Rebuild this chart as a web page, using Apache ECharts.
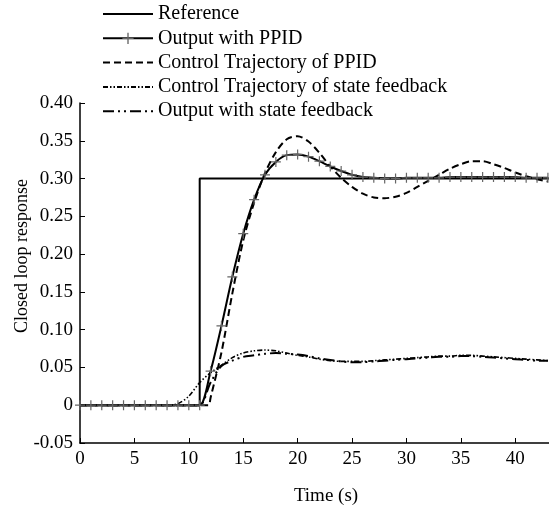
<!DOCTYPE html>
<html><head><meta charset="utf-8">
<script src="https://cdn.jsdelivr.net/npm/echarts@6/dist/echarts.min.js"></script>
<style>html,body{margin:0;padding:0;background:#fff}#c{width:549px;height:510px}</style>
</head><body><div id="c"></div>
<script>
// ---- data ----
const refT = [0, 11, 11, 43.2];
const refV = [0, 0, 0.3, 0.3];

const ppidT = [0,1,2,3,4,5,6,7,8,9,10,11,12,13,14,15,16,17,18,19,20,21,22,23,24,25,26,27,28,29,30,31,32,33,34,35,36,37,38,39,40,41,42,43];
const ppidV = [0,0,0,0,0,0,0,0,0,0,0,0,0.045,0.105,0.170,0.227,0.272,0.305,0.322,0.331,0.332,0.329,0.323,0.316,0.310,0.305,0.302,0.301,0.300,0.300,0.301,0.301,0.301,0.301,0.302,0.302,0.302,0.302,0.302,0.302,0.302,0.301,0.301,0.301];

const ctpT = [0,2,4,6,8,10,11,11.8,12,13,14,15,16,17,18,19,20,21,22,23,24,25,26,27,28,29,30,31,32,33,34,35,36,37,38,39,40,41,42,43];
const ctpV = [0,0,0,0,0,0,0,0,0.010,0.070,0.148,0.218,0.268,0.307,0.335,0.352,0.356,0.349,0.334,0.316,0.301,0.289,0.280,0.275,0.274,0.276,0.281,0.289,0.297,0.305,0.313,0.319,0.323,0.323,0.319,0.314,0.308,0.303,0.299,0.296];

const ctsT = [0,2,4,6,8,9,10,11,12,13,14,15,16,17,18,19,20,21,22,23,24,25,26,27,28,29,30,31,32,33,34,35,36,37,38,39,40,41,42,43];
const ctsV = [0,0,0,0,0,0.002,0.012,0.030,0.043,0.053,0.063,0.069,0.072,0.073,0.072,0.069,0.066,0.064,0.061,0.059,0.058,0.058,0.058,0.059,0.060,0.061,0.062,0.063,0.064,0.065,0.065,0.066,0.066,0.065,0.064,0.063,0.062,0.061,0.060,0.059];

const osfT = [0,2,4,6,8,10,11,12,13,14,15,16,17,18,19,20,21,22,23,24,25,26,27,28,29,30,31,32,33,34,35,36,37,38,39,40,41,42,43];
const osfV = [0,0,0,0,0,0,0,0.030,0.052,0.059,0.064,0.066,0.068,0.069,0.068,0.067,0.065,0.062,0.060,0.058,0.057,0.057,0.058,0.059,0.060,0.061,0.062,0.063,0.064,0.064,0.065,0.065,0.064,0.063,0.062,0.061,0.060,0.059,0.059];

const names = ['Reference','Output with PPID','Control Trajectory of PPID','Control Trajectory of state feedback','Output with state feedback'];
const xTicks = [0,5,10,15,20,25,30,35,40];
const yTicks = ['-0.05','0','0.05','0.10','0.15','0.20','0.25','0.30','0.35','0.40'];

const zip = (t, v) => t.map((x, i) => [x, v[i]]);
const FONT = 'Liberation Serif';
const plus = 'path://M4.4,0h1.2v4.4h4.4v1.2h-4.4v4.4h-1.2v-4.4h-4.4v-1.2h4.4z';
const NONE = 'rgba(0,0,0,0)';

const chart = echarts.init(document.getElementById('c'), null, {renderer: 'canvas'});
chart.setOption({
  animation: false,
  backgroundColor: '#fff',
  grid: {left: 80, right: 0, top: 103, bottom: 67},
  legend: {
    orient: 'vertical', left: 102, top: 4, padding: 0,
    itemWidth: 50, itemHeight: 14, itemGap: 4.3,
    textStyle: {fontFamily: FONT, fontSize: 20, color: '#000', lineHeight: 20},
    data: names
  },
  xAxis: {
    type: 'value', min: 0, max: 43.1, interval: 5,
    axisLine: {show: true, onZero: false, lineStyle: {color: '#000', width: 1.5}},
    axisTick: {inside: true, length: 5, lineStyle: {color: '#000'}},
    splitLine: {show: false},
    axisLabel: {fontFamily: FONT, fontSize: 19, color: '#000', margin: 7, showMaxLabel: false,
      formatter: v => xTicks.indexOf(Math.round(v)) >= 0 && Math.abs(v - Math.round(v)) < 1e-6 ? String(Math.round(v)) : ''}
  },
  yAxis: {
    type: 'value', min: -0.05, max: 0.4, interval: 0.05,
    axisLine: {show: true, onZero: false, lineStyle: {color: '#000', width: 1.5}},
    axisTick: {inside: true, length: 5, lineStyle: {color: '#000'}},
    splitLine: {show: false},
    axisLabel: {fontFamily: FONT, fontSize: 19, color: '#000', margin: 7,
      formatter: v => { const k = Math.round((v + 0.05) / 0.05); return yTicks[k] || ''; }}
  },
  graphic: [
    {type: 'text', x: 326, y: 496,
      style: {text: 'Time (s)', fontFamily: FONT, fontSize: 19, fill: '#000', textAlign: 'center', textVerticalAlign: 'middle'}},
    {type: 'text', x: 22, y: 256, rotation: Math.PI / 2,
      style: {text: 'Closed loop response', fontFamily: FONT, fontSize: 18, fill: '#000', textAlign: 'center', textVerticalAlign: 'middle'}}
  ],
  series: [
    {name: names[0], type: 'line', data: zip(refT, refV), symbol: 'none', z: 3,
      lineStyle: {color: '#000', width: 2}, itemStyle: {color: NONE}},
    {name: names[2], type: 'line', data: zip(ctpT, ctpV), symbol: 'none', smooth: 0.3, z: 2,
      lineStyle: {color: '#000', width: 2, type: [7, 4]}, itemStyle: {color: NONE}},
    {name: names[3], type: 'line', data: zip(ctsT, ctsV), symbol: 'none', smooth: 0.3, z: 2,
      lineStyle: {color: '#000', width: 1.6, type: [5, 2, 1.5, 2, 1.5, 2]}, itemStyle: {color: NONE}},
    {name: names[4], type: 'line', data: zip(osfT, osfV), symbol: 'none', smooth: 0.3, z: 2,
      lineStyle: {color: '#000', width: 2, type: [11, 4, 2, 4, 2, 4]}, itemStyle: {color: NONE}},
    {name: names[1], type: 'line', data: zip(ppidT, ppidV), symbol: plus, symbolSize: 10, showSymbol: true, smooth: 0.3, z: 4,
      lineStyle: {color: '#000', width: 2}, itemStyle: {color: '#666'}}
  ]
});
</script></body></html>
